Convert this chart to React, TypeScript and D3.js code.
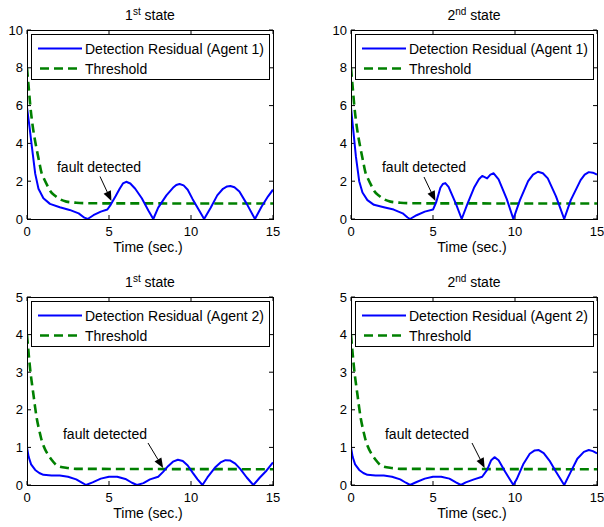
import * as d3 from "d3";

// time stamps + values
const timeR11 = [0, 0.15, 0.3, 0.5, 0.7, 1.0, 1.4, 2.0, 2.6, 3.15, 3.5, 3.7, 4.05, 4.5, 4.9, 5.1, 5.4, 5.65, 5.85, 6.05, 6.3, 6.6, 7.0, 7.4, 7.7, 8.0, 8.5, 8.9, 9.1, 9.3, 9.55, 9.8, 10.1, 10.5, 10.8, 11.2, 11.6, 11.95, 12.2, 12.4, 12.65, 12.95, 13.4, 13.9, 14.3, 14.7, 15];
const resid11 = [5.9, 4.9, 3.8, 2.4, 1.6, 1.1, 0.8, 0.62, 0.48, 0.3, 0.07, 0, 0.2, 0.39, 0.5, 0.75, 1.2, 1.6, 1.88, 1.97, 1.88, 1.6, 1.1, 0.45, 0, 0.6, 1.25, 1.65, 1.8, 1.85, 1.78, 1.55, 1.05, 0.45, 0, 0.6, 1.25, 1.6, 1.72, 1.75, 1.68, 1.45, 0.8, 0, 0.65, 1.2, 1.55];

const timeR12 = [0, 0.15, 0.3, 0.5, 0.7, 1.0, 1.4, 2.0, 2.6, 3.15, 3.45, 3.6, 4.0, 4.5, 5.0, 5.2, 5.45, 5.6, 5.75, 5.95, 6.4, 6.75, 7.1, 7.5, 7.8, 8.0, 8.3, 8.5, 8.7, 9.0, 9.5, 9.9, 10.3, 10.8, 11.1, 11.4, 11.7, 12.0, 12.5, 13.0, 13.4, 14.0, 14.25, 14.5, 14.75, 15];
const resid12 = [5.9, 4.6, 3.3, 2.0, 1.4, 1.0, 0.75, 0.62, 0.5, 0.3, 0.08, 0, 0.2, 0.39, 0.5, 0.9, 1.65, 1.85, 1.9, 1.7, 0.8, 0, 0.8, 1.65, 2.1, 2.28, 2.15, 2.35, 2.42, 2.1, 1.05, 0, 1.0, 2.0, 2.35, 2.5, 2.42, 2.15, 1.2, 0, 1.0, 2.06, 2.35, 2.48, 2.45, 2.35];

const timeR21 = [0, 0.1, 0.25, 0.5, 0.75, 1.0, 1.5, 2.0, 2.5, 3.0, 3.4, 3.6, 4.0, 4.5, 5.0, 5.5, 6.0, 6.4, 6.7, 7.1, 7.5, 8.0, 8.3, 8.6, 8.9, 9.2, 9.5, 9.8, 10.1, 10.4, 10.7, 11.0, 11.5, 11.8, 12.1, 12.4, 12.7, 13.0, 13.4, 13.8, 14.2, 14.6, 15];
const resid21 = [1.0, 0.75, 0.55, 0.4, 0.32, 0.27, 0.25, 0.25, 0.22, 0.15, 0.05, 0, 0.07, 0.17, 0.22, 0.22, 0.16, 0.06, 0, 0.05, 0.15, 0.22, 0.35, 0.5, 0.62, 0.67, 0.64, 0.52, 0.33, 0.15, 0, 0.2, 0.48, 0.6, 0.66, 0.65, 0.57, 0.43, 0.2, 0, 0.2, 0.38, 0.6];

const timeR22 = [0, 0.1, 0.25, 0.5, 0.75, 1.0, 1.5, 2.0, 2.5, 3.0, 3.35, 3.6, 4.0, 4.5, 5.0, 5.5, 6.0, 6.4, 6.7, 7.0, 7.5, 8.0, 8.3, 8.55, 8.75, 9.0, 9.4, 9.9, 10.1, 10.5, 10.9, 11.2, 11.45, 11.75, 12.1, 12.5, 13.0, 13.4, 13.8, 14.2, 14.5, 14.75, 15];
const resid22 = [1.0, 0.75, 0.55, 0.4, 0.32, 0.27, 0.25, 0.25, 0.22, 0.15, 0.06, 0, 0.08, 0.17, 0.22, 0.22, 0.17, 0.07, 0, 0.07, 0.15, 0.22, 0.4, 0.66, 0.74, 0.66, 0.35, 0, 0.15, 0.55, 0.83, 0.92, 0.93, 0.85, 0.65, 0.35, 0, 0.35, 0.7, 0.88, 0.93, 0.9, 0.84];

const timeTh1 = [0, 0.1, 0.2, 0.35, 0.5, 0.6, 0.75, 0.9, 1.0, 1.25, 1.4, 1.75, 1.9, 2.4, 3.0, 4.0, 15];
const thresh1 = [8.0, 7.0, 6.0, 4.9, 4.1, 3.65, 3.0, 2.4, 2.2, 1.75, 1.5, 1.2, 1.1, 0.92, 0.86, 0.83, 0.82];

const timeTh2 = [0, 0.1, 0.2, 0.3, 0.4, 0.5, 0.6, 0.75, 0.9, 1.0, 1.25, 1.4, 1.5, 1.9, 2.5, 3.0, 15];
const thresh2 = [4.0, 3.5, 3.05, 2.7, 2.38, 2.05, 1.76, 1.45, 1.18, 1.05, 0.83, 0.73, 0.67, 0.5, 0.45, 0.43, 0.42];

const xTicks = [0, 5, 10, 15];
const yTicksTop = [0, 2, 4, 6, 8, 10];
const yTicksBottom = [0, 1, 2, 3, 4, 5];

const zip = (t: number[], v: number[]) => t.map((x, i) => [x, v[i]] as [number, number]);

const panels = [
  { id: "p11", ord: "st", agent: 1, x0: 27, x1: 273, y0: 30, y1: 219, yMax: 10, yTicks: yTicksTop, resid: zip(timeR11, resid11), th: zip(timeTh1, thresh1), tip: [5.15, 0.95], tail: [100, 176.5], label: [99, 172] },
  { id: "p12", ord: "nd", agent: 1, x0: 351, x1: 597, y0: 30, y1: 219, yMax: 10, yTicks: yTicksTop, resid: zip(timeR12, resid12), th: zip(timeTh1, thresh1), tip: [5.15, 0.95], tail: [424, 177], label: [424, 172] },
  { id: "p21", ord: "st", agent: 2, x0: 27, x1: 273, y0: 297, y1: 485, yMax: 5, yTicks: yTicksBottom, resid: zip(timeR21, resid21), th: zip(timeTh2, thresh2), tip: [8.3, 0.45], tail: [148, 443], label: [105, 439] },
  { id: "p22", ord: "nd", agent: 2, x0: 351, x1: 597, y0: 297, y1: 485, yMax: 5, yTicks: yTicksBottom, resid: zip(timeR22, resid22), th: zip(timeTh2, thresh2), tip: [8.15, 0.45], tail: [472, 443], label: [427, 439] },
];

const font = "'Liberation Sans', Arial, sans-serif";

function Panel({ p }: { p: (typeof panels)[number] }) {
  const x = d3.scaleLinear().domain([0, 15]).range([p.x0, p.x1]);
  const y = d3.scaleLinear().domain([0, p.yMax]).range([p.y1, p.y0]);
  const line = d3.line<[number, number]>().x(d => x(d[0])).y(d => y(d[1]));
  const thLine = d3.line<[number, number]>().x(d => x(d[0])).y(d => y(d[1])).curve(d3.curveMonotoneX);
  const cx = (p.x0 + p.x1) / 2;
  const tl = 4;

  // arrow
  const tx = x(p.tip[0]), ty = y(p.tip[1]);
  const ang = Math.atan2(ty - p.tail[1], tx - p.tail[0]);
  const hl = 10, hw = 4;
  const bx = tx - hl * Math.cos(ang), by = ty - hl * Math.sin(ang);
  const head = `M${tx},${ty}L${bx + hw * Math.sin(ang)},${by - hw * Math.cos(ang)}L${bx - hw * Math.sin(ang)},${by + hw * Math.cos(ang)}Z`;

  const lx = p.x0 + 4, ly = p.y0 + 4;

  return (
    <g fontFamily={font}>
      <defs>
        <clipPath id={`clip-${p.id}`}>
          <rect x={p.x0} y={p.y0 - 2} width={p.x1 - p.x0} height={p.y1 - p.y0 + 4} />
        </clipPath>
      </defs>
      <rect x={p.x0} y={p.y0} width={p.x1 - p.x0} height={p.y1 - p.y0} fill="#fff" stroke="none" />
      {/* ticks on all four sides, inward */}
      {xTicks.map(t => (
        <g key={"x" + t}>
          <line x1={x(t)} x2={x(t)} y1={p.y1} y2={p.y1 - tl} stroke="#000" />
          <line x1={x(t)} x2={x(t)} y1={p.y0} y2={p.y0 + tl} stroke="#000" />
          <text x={x(t)} y={p.y1 + 16.5} fontSize={13} textAnchor="middle">{t}</text>
        </g>
      ))}
      {p.yTicks.map(t => (
        <g key={"y" + t}>
          <line x1={p.x0} x2={p.x0 + tl} y1={y(t)} y2={y(t)} stroke="#000" />
          <line x1={p.x1} x2={p.x1 - tl} y1={y(t)} y2={y(t)} stroke="#000" />
          <text x={p.x0 - 4} y={y(t) + 4.5} fontSize={13} textAnchor="end">{t}</text>
        </g>
      ))}
      <g clipPath={`url(#clip-${p.id})`}>
        <path d={thLine(p.th) ?? ""} fill="none" stroke="#008000" strokeWidth={2.6} strokeDasharray="9,5" />
        <path d={line(p.resid) ?? ""} fill="none" stroke="#0000ff" strokeWidth={2} strokeLinejoin="round" />
      </g>
      <rect x={p.x0 + 0.5} y={p.y0 + 0.5} width={p.x1 - p.x0} height={p.y1 - p.y0} fill="none" stroke="#000" />

      {/* legend */}
      <rect x={lx + 0.5} y={ly + 0.5} width={238} height={45} fill="#fff" stroke="#000" />
      <line x1={lx + 7} x2={lx + 51} y1={ly + 14.5} y2={ly + 14.5} stroke="#0000ff" strokeWidth={2} />
      <text x={lx + 54} y={ly + 19.5} fontSize={14}>{`Detection Residual (Agent ${p.agent})`}</text>
      <line x1={lx + 9} x2={lx + 51} y1={ly + 34.5} y2={ly + 34.5} stroke="#008000" strokeWidth={2.6} strokeDasharray="9,5" />
      <text x={lx + 54} y={ly + 39.5} fontSize={14}>Threshold</text>

      {/* annotation */}
      <text x={p.label[0]} y={p.label[1]} fontSize={14} textAnchor="middle">fault detected</text>
      <line x1={p.tail[0]} y1={p.tail[1]} x2={bx} y2={by} stroke="#000" strokeWidth={1} />
      <path d={head} fill="#000" />

      {/* title and x label */}
      <text x={cx} y={p.y0 - 10} fontSize={14} textAnchor="middle">
        <tspan>{p.ord === "st" ? "1" : "2"}</tspan>
        <tspan fontSize={10} dy={-5}>{p.ord}</tspan>
        <tspan dy={5}>{" state"}</tspan>
      </text>
      <text x={cx - 2} y={p.y1 + 33} fontSize={14} textAnchor="middle">Time (sec.)</text>
    </g>
  );
}

export default function App() {
  return (
    <div style={{ position: "absolute", left: 0, top: 0 }}>
      <svg width={604} height={527} style={{ display: "block", background: "#fff" }}>
        <rect width={604} height={527} fill="#fff" />
        {panels.map(p => <Panel key={p.id} p={p} />)}
      </svg>
    </div>
  );
}
